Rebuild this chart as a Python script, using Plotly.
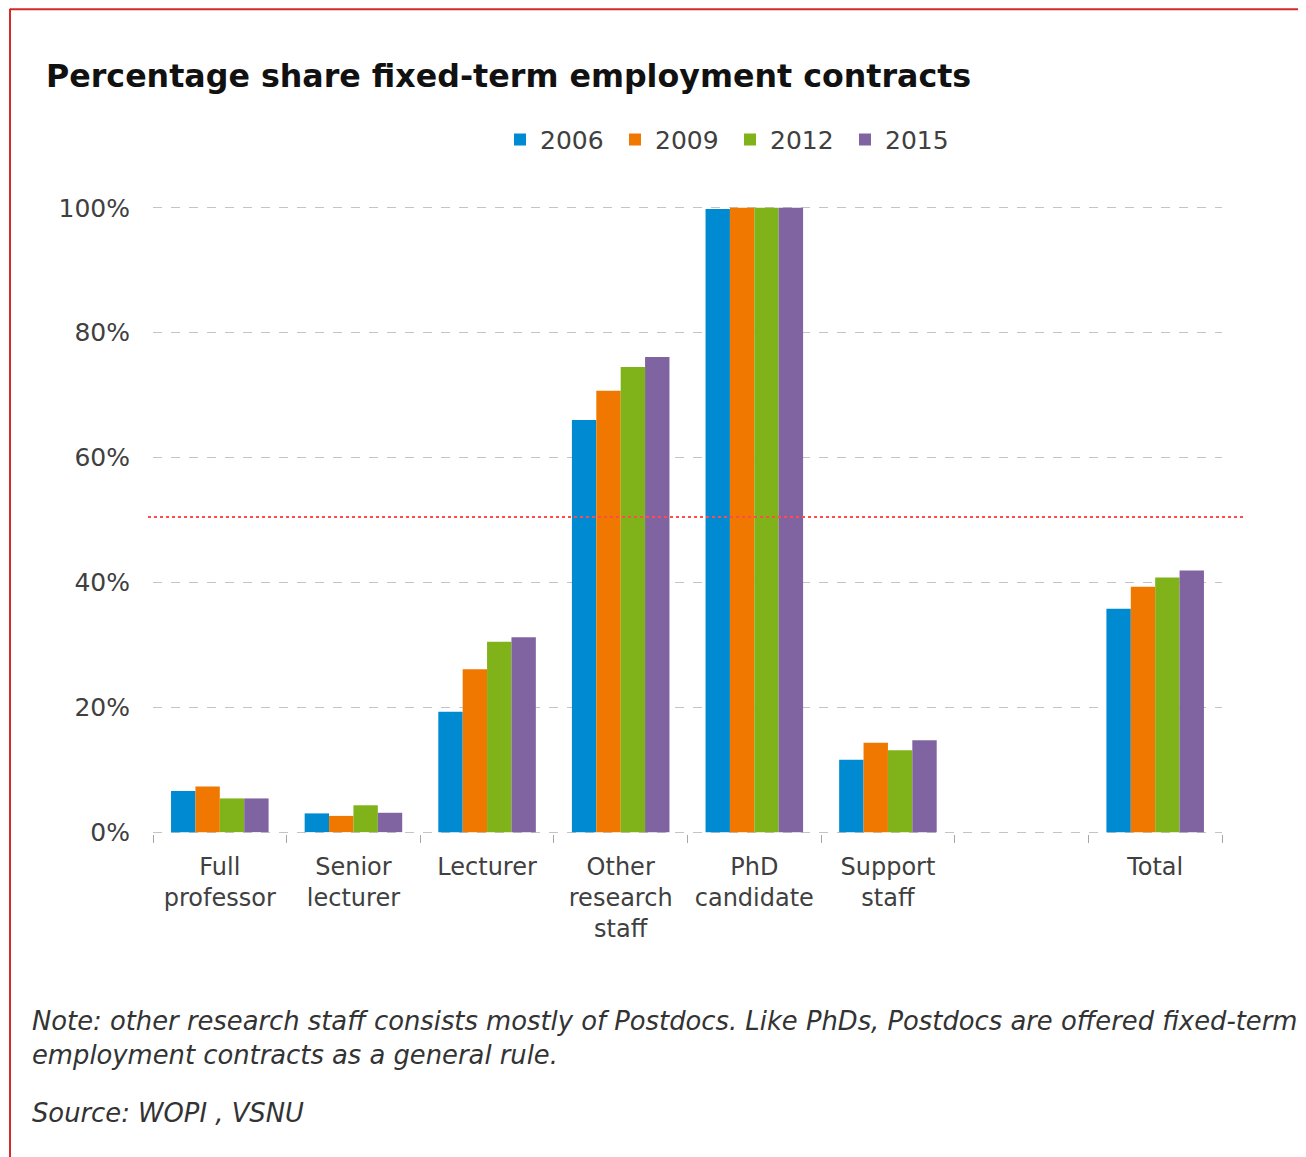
import plotly.graph_objects as go

categories = ["Full<br>professor", "Senior<br>lecturer", "Lecturer", "Other<br>research<br>staff",
              "PhD<br>candidate", "Support<br>staff", " ", "Total"]
years = ["2006", "2009", "2012", "2015"]
values = {
    "2006": [6.6, 3.0, 19.3, 66.0, 99.8, 11.6, None, 35.8],
    "2009": [7.3, 2.6, 26.1, 70.7, 100.0, 14.3, None, 39.3],
    "2012": [5.4, 4.3, 30.5, 74.5, 100.0, 13.1, None, 40.8],
    "2015": [5.4, 3.1, 31.2, 76.1, 100.0, 14.7, None, 41.9],
}
colors = {"2006": "#008AD2", "2009": "#F07800", "2012": "#80B31A", "2015": "#8064A2"}
threshold = 50.5
yticks = [0, 20, 40, 60, 80, 100]

OFF = 8  # page body margin
W, H = 1306 - OFF, 1157 - OFF
PAD = 0.3
# screen coords of plot area for 0..100
SL, SR, S100, S0 = 153, 1222, 208, 832
UNIT = (S0 - S100) / 100.0
L, R = SL - OFF, SR - OFF
T = S100 - OFF - PAD * UNIT
B = S0 - OFF + PAD * UNIT


def px(x):
    return (x - OFF - L) / (R - L)


def py(y):
    return (B - (y - OFF)) / (B - T)


fig = go.Figure()
for yr in years:
    fig.add_trace(go.Bar(x=categories, y=values[yr], name=yr, marker_color=colors[yr],
                         marker_line_width=0))

fig.add_shape(type="line", xref="paper", yref="y", x0=px(148), x1=px(1243), y0=threshold, y1=threshold,
              line=dict(color="#FF4B4B", width=2, dash="dot"))

# border (top and left visible)
fig.add_shape(type="line", xref="paper", yref="paper", x0=px(10), x1=px(10), y0=py(1170), y1=py(9),
              line=dict(color="#D42A2A", width=2))
fig.add_shape(type="line", xref="paper", yref="paper", x0=px(10), x1=px(1320), y0=py(9.5), y1=py(9.5),
              line=dict(color="#D42A2A", width=2))

fig.add_annotation(text="<b>Percentage share fixed-term employment contracts</b>", xref="paper", yref="paper",
                   x=px(44), y=py(76), xanchor="left", yanchor="middle", showarrow=False,
                   font=dict(family="DejaVu Sans", size=31.7, color="#111111"))
fig.add_annotation(text="<i>Note: other research staff consists mostly of Postdocs. Like PhDs, Postdocs are offered fixed-term<br>employment contracts as a general rule.</i>",
                   xref="paper", yref="paper", x=px(30), y=py(1004), xanchor="left", yanchor="top",
                   align="left", showarrow=False,
                   font=dict(family="DejaVu Sans", size=25.8, color="#333333"))
fig.add_annotation(text="<i>Source: WOPI , VSNU</i>", xref="paper", yref="paper", x=px(30), y=py(1113),
                   xanchor="left", yanchor="middle", align="left", showarrow=False,
                   font=dict(family="DejaVu Sans", size=25.8, color="#333333"))

fig.update_layout(
    width=W, height=H,
    margin=dict(l=L, r=W - R, t=T, b=H - B, autoexpand=False),
    paper_bgcolor="white", plot_bgcolor="white",
    barmode="group", bargap=0.27, bargroupgap=0,
    font=dict(family="DejaVu Sans", size=24, color="#404040"),
    legend=dict(orientation="h", x=px(500), xanchor="left", y=py(140), yanchor="middle",
                font=dict(size=25, color="#404040"), entrywidth=70, entrywidthmode="pixels",
                itemwidth=30, itemclick=False),
    showlegend=True,
)
fig.update_xaxes(type="category", tickson="boundaries", ticks="outside", ticklen=8, tickcolor="#A6A6A6",
                 showgrid=False, showline=False, ticklabelstandoff=16,
                 tickfont=dict(size=24, color="#404040"))
fig.update_yaxes(range=[-PAD, 100 + PAD], tickvals=yticks, ticktext=[f"{v}%" for v in yticks],
                 showgrid=True, gridcolor="#C4C4C4", griddash="dash", gridwidth=1, zeroline=False,
                 showline=False, ticks="", ticklabelstandoff=22, tickfont=dict(size=25, color="#404040"))

fig.write_html("out.html")
